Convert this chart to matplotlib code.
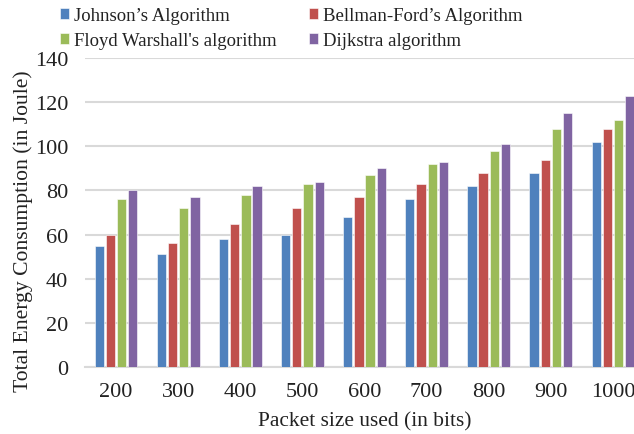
import numpy as np
import matplotlib.pyplot as plt

plt.rcParams['font.family'] = ['Liberation Serif', 'DejaVu Serif']

packet_sizes = ["200", "300", "400", "500", "600", "700", "800", "900", "1000"]
johnson = [55, 51, 58, 60, 68, 76, 82, 88, 102]
bellman_ford = [60, 56, 65, 72, 77, 83, 88, 94, 108]
floyd_warshall = [76, 72, 78, 83, 87, 92, 98, 108, 112]
dijkstra = [80, 77, 82, 84, 90, 93, 101, 115, 123]

series = [
    ("Johnson\u2019s Algorithm", johnson, "#4F81BD"),
    ("Bellman-Ford\u2019s Algorithm", bellman_ford, "#C0504D"),
    ("Floyd Warshall's algorithm", floyd_warshall, "#9BBB59"),
    ("Dijkstra algorithm", dijkstra, "#8064A2"),
]

W, H = 634, 435
fig = plt.figure(figsize=(W / 100, H / 100), dpi=100)
# axes extends a little past the right edge of the figure
left, right, bottom, top = 85, 644, 368, 59
ax = fig.add_axes([left / W, 1 - bottom / H, (right - left) / W, (bottom - top) / H])

x = np.arange(len(packet_sizes))
step = 0.18
width = 0.15
handles = []
for i, (name, vals, color) in enumerate(series):
    h = ax.bar(x + (i - 1.5) * step, vals, width, color=color,
               edgecolor="white", linewidth=0.4, zorder=3, label=name)
    handles.append(h)

ax.set_xlim(-0.5, len(packet_sizes) - 0.5)
ax.set_ylim(0, 140)
ax.set_yticks(np.arange(0, 141, 20))
ax.set_xticks(x)
ax.set_xticklabels(packet_sizes)
ax.grid(axis="y", color="#D9D9D9", linewidth=1.5, zorder=0)
for s in ["top", "right", "left"]:
    ax.spines[s].set_visible(False)
ax.spines["bottom"].set_color("#D9D9D9")
ax.spines["bottom"].set_linewidth(1.5)
ax.tick_params(axis="both", length=0, labelsize=16, colors="#222222")
ax.tick_params(axis="y", pad=12)
ax.tick_params(axis="x", pad=11)

fig.text(365 / W, 1 - 422 / H, "Packet size used (in bits)", fontsize=15.4,
         ha="center", va="center", color="#222222")
fig.text(23 / W, 1 - 231 / H, "Total Energy Consumption (in Joule)", rotation=90,
         fontsize=15.6, ha="center", va="center", color="#222222")

# legend fills row by row: Johnson, Bellman-Ford / Floyd Warshall, Dijkstra
order = [0, 2, 1, 3]
fig.legend(handles=[handles[k] for k in order], loc="upper left",
           bbox_to_anchor=(60 / W, 1 - 8 / H), ncol=2, frameon=False,
           fontsize=13.5, handlelength=0.5, handleheight=0.5,
           handletextpad=0.25, columnspacing=1.7, labelspacing=0.44,
           borderaxespad=0, borderpad=0, labelcolor="#222222")

fig.savefig("out.png", dpi=100)
